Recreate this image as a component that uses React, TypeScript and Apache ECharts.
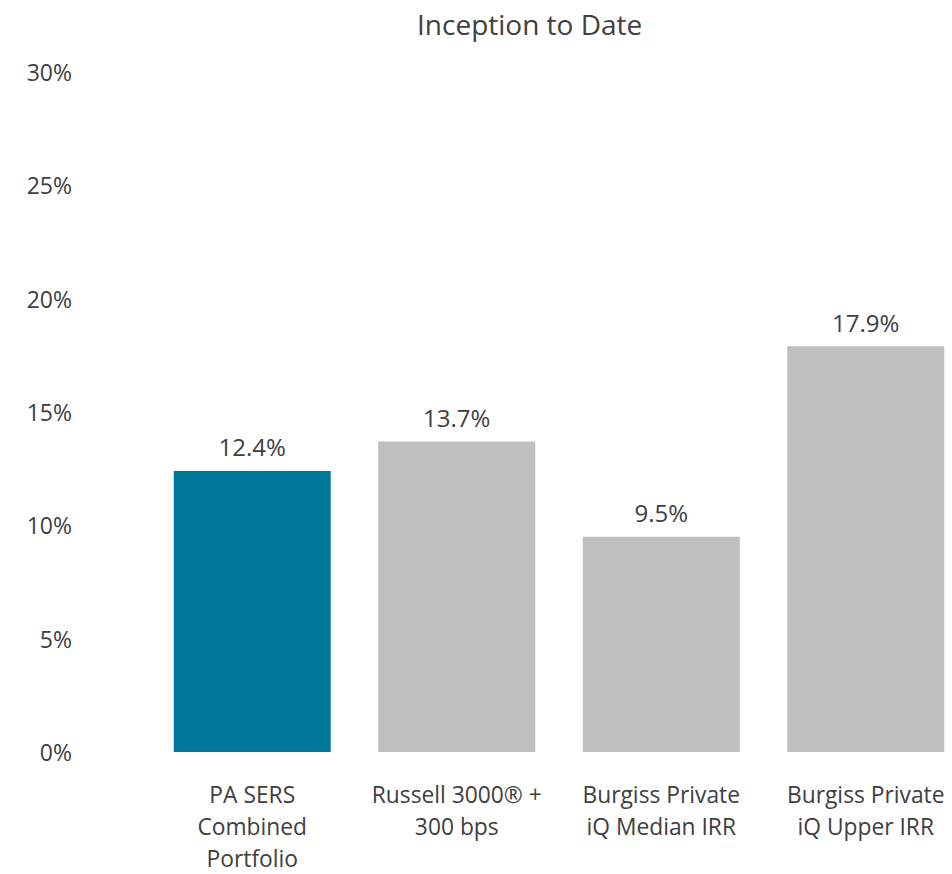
import React, { useEffect, useRef } from "react";
import * as echarts from "echarts";

const categories = [
  "PA SERS\nCombined\nPortfolio",
  "Russell 3000® +\n300 bps",
  "Burgiss Private\niQ Median IRR",
  "Burgiss Private\niQ Upper IRR",
];
const values = [12.4, 13.7, 9.5, 17.9];
const barColors = ["#00789A", "#BFBFBF", "#BFBFBF", "#BFBFBF"];
const titleText = "Inception to Date";

const FONT = "'Open Sans', 'Noto Sans', sans-serif";
const TEXT = "#404040";

export default function App() {
  const ref = useRef<HTMLDivElement>(null);
  useEffect(() => {
    if (!ref.current) return;
    const chart = echarts.init(ref.current, undefined, { renderer: "svg" });
    chart.setOption({
      animation: false,
      backgroundColor: "#ffffff",
      title: {
        text: titleText,
        left: 412,
        top: 5,
        textStyle: { fontFamily: FONT, fontSize: 28, fontWeight: "normal", color: TEXT },
      },
      grid: { left: 150, width: 818, top: 72, height: 685, containLabel: false },
      xAxis: {
        type: "category",
        data: categories,
        axisLine: { show: false },
        axisTick: { show: false },
        axisLabel: {
          interval: 0,
          margin: 26,
          fontFamily: FONT,
          fontSize: 22.8,
          lineHeight: 32,
          color: TEXT,
        },
      },
      yAxis: {
        type: "value",
        min: 0,
        max: 30,
        interval: 5,
        splitLine: { show: false },
        axisLine: { show: false },
        axisTick: { show: false },
        axisLabel: {
          formatter: "{value}%",
          margin: 78,
          fontFamily: FONT,
          fontSize: 23,
          color: TEXT,
        },
      },
      series: [
        {
          type: "bar",
          barWidth: 157,
          data: values.map((v, i) => ({ value: v, itemStyle: { color: barColors[i] } })),
          label: {
            show: true,
            position: "top",
            distance: 12,
            formatter: (p: any) => p.value.toFixed(1) + "%",
            fontFamily: FONT,
            fontSize: 24,
            color: TEXT,
          },
        },
      ],
    });
    return () => chart.dispose();
  }, []);
  return (
    <div
      style={{
        position: "fixed",
        left: 0,
        top: 0,
        width: 952,
        height: 874,
        overflow: "hidden",
        background: "#ffffff",
      }}
    >
      <div ref={ref} style={{ width: 968, height: 874 }} />
    </div>
  );
}
